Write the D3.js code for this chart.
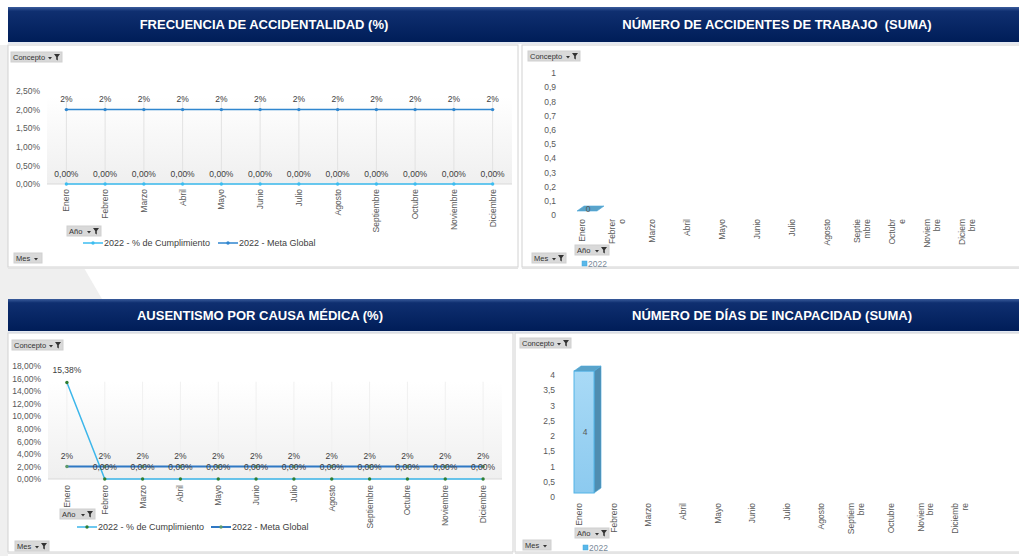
<!DOCTYPE html>
<html>
<head>
<meta charset="utf-8">
<script src="https://cdn.jsdelivr.net/npm/d3@7"></script>
<style>
  body { margin: 0; background: #fff; }
  svg { display: block; }
  .title { white-space: pre; }
</style>
</head>
<body>
<svg id="dash" width="1019" height="556"></svg>
<script>
// ---- datos ----
var months = ["Enero", "Febrero", "Marzo", "Abril", "Mayo", "Junio", "Julio",
              "Agosto", "Septiembre", "Octubre", "Noviembre", "Diciembre"];

var freqCumplimiento = [0, 0, 0, 0, 0, 0, 0, 0, 0, 0, 0, 0];
var freqMeta = [0.02, 0.02, 0.02, 0.02, 0.02, 0.02, 0.02, 0.02, 0.02, 0.02, 0.02, 0.02];

var ausCumplimiento = [0.1538, 0, 0, 0, 0, 0, 0, 0, 0, 0, 0, 0];
var ausMeta = [0.02, 0.02, 0.02, 0.02, 0.02, 0.02, 0.02, 0.02, 0.02, 0.02, 0.02, 0.02];

// solo Enero tiene dato, el resto del año queda vacío
var accidentesTrabajo = [0, null, null, null, null, null, null, null, null, null, null, null];
var diasIncapacidad = [4, null, null, null, null, null, null, null, null, null, null, null];

var freqTicks = [0, 0.005, 0.01, 0.015, 0.02, 0.025];
var ausTicks = [0, 0.02, 0.04, 0.06, 0.08, 0.10, 0.12, 0.14, 0.16, 0.18];
var accTicks = [0, 0.1, 0.2, 0.3, 0.4, 0.5, 0.6, 0.7, 0.8, 0.9, 1];
var diasTicks = [0, 0.5, 1, 1.5, 2, 2.5, 3, 3.5, 4];

var accLabels = [["Enero"], ["Febrer", "o"], ["Marzo"], ["Abril"], ["Mayo"], ["Junio"], ["Julio"],
                 ["Agosto"], ["Septie", "mbre"], ["Octubr", "e"], ["Noviem", "bre"], ["Diciem", "bre"]];
var diasLabels = [["Enero"], ["Febrero"], ["Marzo"], ["Abril"], ["Mayo"], ["Junio"], ["Julio"],
                  ["Agosto"], ["Septiem", "bre"], ["Octubre"], ["Noviem", "bre"], ["Diciemb", "re"]];

var FONT = "'Liberation Sans', Arial, sans-serif";
var es = d3.formatLocale({decimal: ",", thousands: ".", grouping: [3], currency: ["", " €"]});
var pct2 = es.format(".2%"), pct0 = es.format(".0%"), num1 = es.format(".1~f");

var svg = d3.select("#dash").attr("font-family", FONT);
var defs = svg.append("defs");

var hg = defs.append("linearGradient").attr("id", "headBg").attr("x1", 0).attr("y1", 0).attr("x2", 0).attr("y2", 1);
hg.append("stop").attr("offset", "0%").attr("stop-color", "#3a5c9c");
hg.append("stop").attr("offset", "12%").attr("stop-color", "#0f2f70");
hg.append("stop").attr("offset", "100%").attr("stop-color", "#001d58");

var pg = defs.append("linearGradient").attr("id", "plotBg").attr("x1", 0).attr("y1", 0).attr("x2", 0).attr("y2", 1);
pg.append("stop").attr("offset", "0%").attr("stop-color", "#ffffff");
pg.append("stop").attr("offset", "100%").attr("stop-color", "#efefef");

var bg = defs.append("linearGradient").attr("id", "barFront").attr("x1", 0).attr("y1", 0).attr("x2", 0).attr("y2", 1);
bg.append("stop").attr("offset", "0%").attr("stop-color", "#a9daf6");
bg.append("stop").attr("offset", "100%").attr("stop-color", "#8ccaef");

// fondo gris de la plantilla
svg.append("rect").attr("x", 0).attr("y", 45).attr("width", 8).attr("height", 511).attr("fill", "#efefef");
svg.append("polygon").attr("points", "0,268 84,268 102,299 0,299").attr("fill", "#efefef");

// ---- paneles ----
function panel(p) {
  svg.append("rect").attr("x", p.x).attr("y", p.bodyY).attr("width", p.w).attr("height", p.bodyH)
    .attr("fill", "#fff").attr("stroke", "#d2d2d2");
  svg.append("line").attr("x1", p.x).attr("x2", p.x + p.w).attr("y1", p.bodyY + p.bodyH + 1).attr("y2", p.bodyY + p.bodyH + 1)
    .attr("stroke", "#e4e4e4").attr("stroke-width", 2);
  svg.append("rect").attr("x", p.hx).attr("y", p.hy).attr("width", p.hw).attr("height", p.hh).attr("fill", "url(#headBg)");
  svg.append("line").attr("x1", p.hx).attr("x2", p.hx + p.hw).attr("y1", p.hy + p.hh + 1).attr("y2", p.hy + p.hh + 1)
    .attr("stroke", "#c9d2e2");
  svg.append("text").attr("class", "title").attr("x", p.tx).attr("y", p.hy + p.hh / 2 + 4.5).attr("text-anchor", "middle")
    .attr("fill", "#fff").attr("font-weight", "bold").attr("font-size", 13).text(p.title);
}

panel({x: 8, bodyY: 45, w: 510, bodyH: 222, hx: 8, hy: 7, hw: 513, hh: 35, tx: 264, title: "FRECUENCIA DE ACCIDENTALIDAD (%)"});
panel({x: 522, bodyY: 45, w: 500, bodyH: 222, hx: 521, hy: 7, hw: 498, hh: 35, tx: 777, title: "NÚMERO DE ACCIDENTES DE TRABAJO  (SUMA)"});
panel({x: 8, bodyY: 333, w: 505, bodyH: 219, hx: 8, hy: 299, hw: 508, hh: 32, tx: 260, title: "AUSENTISMO POR CAUSA MÉDICA (%)"});
panel({x: 515, bodyY: 333, w: 507, bodyH: 219, hx: 516, hy: 299, hw: 503, hh: 32, tx: 772, title: "NÚMERO DE DÍAS DE INCAPACIDAD (SUMA)"});

// ---- botones de filtro ----
function button(x, y, w, label, funnel) {
  var g = svg.append("g").attr("transform", "translate(" + x + "," + y + ")");
  g.append("rect").attr("width", w).attr("height", 10).attr("fill", "#d9d9d9").attr("stroke", "#cfcfcf");
  g.append("text").attr("x", 2).attr("y", 7.8).attr("font-size", 7.5).attr("fill", "#333").text(label);
  var ax = funnel ? w - 14 : w - 8;
  g.append("path").attr("d", "M" + ax + ",5 h4 l-2,2.5 z").attr("fill", "#333");
  if (funnel) {
    var fx = w - 8;
    g.append("path").attr("d", "M" + fx + ",2 h6 l-2.2,3 v3.5 l-1.6,-1 v-2.5 z").attr("fill", "#333");
  }
}

button(11, 52, 51, "Concepto", true);
button(67, 226, 34, "Año", true);
button(14, 253, 28, "Mes", false);

button(528, 51, 52, "Concepto", true);
button(575, 245, 34, "Año", true);
button(532, 253, 34, "Mes", true);

button(12, 340, 51, "Concepto", true);
button(60, 509, 35, "Año", true);
button(15, 541, 34, "Mes", true);

button(520, 338, 51, "Concepto", true);
button(575, 528, 34, "Año", true);
button(523, 540, 28, "Mes", false);

// ---- gráfico de líneas ----
function lineChart(o) {
  var g = svg.append("g");
  var x = d3.scalePoint().domain(months).range(o.xRange).padding(0.5);
  var y = d3.scaleLinear().domain([0, o.yMax]).range(o.yRange);

  g.append("rect").attr("x", o.xRange[0]).attr("y", y(o.plotTop))
    .attr("width", o.xRange[1] - o.xRange[0]).attr("height", y(0) - y(o.plotTop)).attr("fill", "url(#plotBg)");
  g.append("g").selectAll("line").data(months).join("line")
    .attr("x1", d => x(d)).attr("x2", d => x(d)).attr("y1", y(o.plotTop)).attr("y2", y(0))
    .attr("stroke", o.gridColor);
  g.append("line").attr("x1", o.xRange[0]).attr("x2", o.xRange[1]).attr("y1", y(0)).attr("y2", y(0))
    .attr("stroke", "#d9d9d9");

  var ya = g.append("g").attr("transform", "translate(" + o.yLabelX + ",0)")
    .call(d3.axisLeft(y).tickValues(o.ticks).tickFormat(pct2).tickSize(0).tickPadding(0));
  ya.select(".domain").remove();
  ya.attr("font-family", FONT).attr("font-size", 8.5).attr("color", "#595959");

  g.append("g").selectAll("text").data(months).join("text")
    .attr("transform", d => "translate(" + x(d) + "," + o.xLabelY + ") rotate(-90)")
    .attr("text-anchor", "end").attr("dy", "0.35em")
    .attr("font-size", 8.5).attr("fill", "#595959").text(d => d);

  var line = d3.line().x((d, i) => x(months[i])).y(d => y(d));
  o.series.forEach(function (s) {
    g.append("path").attr("d", line(s.values)).attr("fill", "none")
      .attr("stroke", s.color).attr("stroke-width", s.width);
    g.append("g").selectAll("circle").data(s.values).join("circle")
      .attr("cx", (d, i) => x(months[i])).attr("cy", d => y(d)).attr("r", 1.7).attr("fill", s.marker);
  });
  o.series.forEach(function (s) {
    g.append("g").selectAll("text").data(s.values).join("text")
      .attr("x", (d, i) => x(months[i])).attr("y", d => y(d) - s.labelOff)
      .attr("text-anchor", "middle").attr("font-size", 8.5).attr("fill", "#404040")
      .text(d => s.fmt(d));
  });

  o.legend.forEach(function (l, i) {
    var s = o.series[i];
    g.append("line").attr("x1", l.x).attr("x2", l.x + 20).attr("y1", l.y).attr("y2", l.y)
      .attr("stroke", s.color).attr("stroke-width", s.width);
    g.append("circle").attr("cx", l.x + 10).attr("cy", l.y).attr("r", 1.7).attr("fill", s.marker);
    g.append("text").attr("x", l.x + 21).attr("y", l.y + 3).attr("font-size", 9).attr("fill", "#404040").text(s.name);
  });
}

lineChart({
  xRange: [47, 512], yMax: 0.025, yRange: [184, 91], plotTop: 0.0235, gridColor: "#e2e2e2",
  ticks: freqTicks, yLabelX: 40, xLabelY: 189,
  series: [
    {name: "2022 - % de Cumplimiento", values: freqCumplimiento, color: "#3cbdf0", marker: "#3cbdf0", width: 1.5, fmt: pct2, labelOff: 7},
    {name: "2022 - Meta Global", values: freqMeta, color: "#2f86cf", marker: "#2f86cf", width: 1.5, fmt: pct0, labelOff: 8}
  ],
  legend: [{x: 83, y: 243}, {x: 218, y: 243}]
});

lineChart({
  xRange: [48, 502], yMax: 0.18, yRange: [479, 366], plotTop: 0.155, gridColor: "#f0f0f0",
  ticks: ausTicks, yLabelX: 41, xLabelY: 485,
  series: [
    {name: "2022 - % de Cumplimiento", values: ausCumplimiento, color: "#3cb6ea", marker: "#2e7d32", width: 1.5, fmt: pct2, labelOff: 9},
    {name: "2022 - Meta Global", values: ausMeta, color: "#2f78c4", marker: "#5e9a6a", width: 2, fmt: pct0, labelOff: 7}
  ],
  legend: [{x: 77, y: 527}, {x: 211, y: 527}]
});

// ---- gráfico de columnas 3D ----
function barChart(o) {
  var g = svg.append("g");
  var x = d3.scaleBand().domain(months).range(o.xRange);
  var y = d3.scaleLinear().domain([0, o.yMax]).range(o.yRange);

  var ya = g.append("g").attr("transform", "translate(" + o.yLabelX + ",0)")
    .call(d3.axisLeft(y).tickValues(o.ticks).tickFormat(num1).tickSize(0).tickPadding(0));
  ya.select(".domain").remove();
  ya.attr("font-family", FONT).attr("font-size", 8.5).attr("color", "#595959");

  var lab = g.append("g").selectAll("text").data(months).join("text")
    .attr("transform", d => "translate(" + (x(d) + x.bandwidth() / 2) + "," + o.xLabelY + ") rotate(-90)")
    .attr("text-anchor", "end").attr("font-size", 8.5).attr("fill", "#595959");
  lab.each(function (d, i) {
    var lines = o.labels[i];
    d3.select(this).selectAll("tspan").data(lines).join("tspan")
      .attr("x", 0)
      .attr("dy", (t, j) => j === 0 ? (0.35 - (lines.length - 1) * 0.55) + "em" : "1.1em")
      .text(t => t);
  });

  var dx = 7, dz = 5, fw = 20;
  o.values.forEach(function (v, i) {
    if (v === null) return;
    var fx = x(months[i]) + x.bandwidth() / 2 - 5;
    var top = y(v) - 4, bot = y(0) - 4;
    var b = g.append("g");
    if (bot - top > 0) {
      b.append("polygon")
        .attr("points", [[fx + fw, top], [fx + fw + dx, top - dz], [fx + fw + dx, bot - dz], [fx + fw, bot]].join(" "))
        .attr("fill", "#4f8db0").attr("stroke", "#4aa9dc").attr("stroke-width", 0.6);
      b.append("rect").attr("x", fx).attr("y", top).attr("width", fw).attr("height", bot - top)
        .attr("fill", "url(#barFront)").attr("stroke", "#52b4e6").attr("stroke-width", 1);
    }
    b.append("polygon")
      .attr("points", [[fx, top], [fx + dx, top - dz], [fx + fw + dx, top - dz], [fx + fw, top]].join(" "))
      .attr("fill", "#5aa3c9").attr("stroke", "#4aa9dc").attr("stroke-width", 0.6);
    g.append("text").attr("x", fx + fw / 2 + 1).attr("y", bot - (bot - top) / 2 + (bot - top > 0 ? 3 : 1))
      .attr("text-anchor", "middle").attr("font-size", 8.5).attr("fill", "#595959").text(num1(v));
  });

  g.append("rect").attr("x", o.legend.x).attr("y", o.legend.y - 4).attr("width", 5).attr("height", 5)
    .attr("fill", "#5ab7e8").attr("stroke", "#3fa6dd").attr("stroke-width", 0.5);
  g.append("text").attr("x", o.legend.x + 6).attr("y", o.legend.y + 1.5).attr("font-size", 8.5)
    .attr("fill", "#7a8a99").text("2022");
}

barChart({
  xRange: [564.5, 984.5], yMax: 1, yRange: [215, 73], ticks: accTicks,
  yLabelX: 556, xLabelY: 219, labels: accLabels, values: accidentesTrabajo,
  legend: {x: 582, y: 265}
});

barChart({
  xRange: [561.7, 977.3], yMax: 4, yRange: [497, 375], ticks: diasTicks,
  yLabelX: 555, xLabelY: 503, labels: diasLabels, values: diasIncapacidad,
  legend: {x: 583, y: 549}
});
</script>
</body>
</html>
